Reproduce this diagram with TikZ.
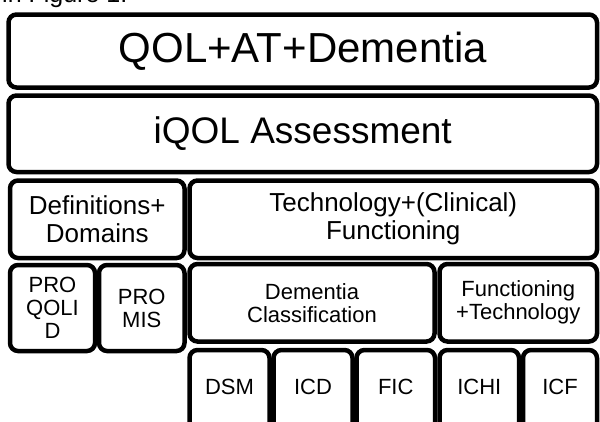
\documentclass[tikz,border=0pt]{standalone}
\usepackage{fontspec}
\setmainfont{Liberation Sans}
\begin{document}
\begin{tikzpicture}[x=1pt,y=-1pt,
  box/.style={draw=black, line width=4.5pt, rounded corners=8pt, fill=white,
    inner sep=0pt, outer sep=0pt, align=center},
  big/.style={font=\fontsize{42}{45}\selectfont},
  mid/.style={font=\fontsize{37}{40}\selectfont},
  med/.style={font=\fontsize{26}{28}\selectfont},
  sml/.style={font=\fontsize{22}{23}\selectfont},
  lbl/.style={inner sep=0pt, align=center, font=\fontsize{22}{23}\selectfont}]
\useasboundingbox (0,0) rectangle (600,421);
\clip (0,0) rectangle (600,421);
\node[anchor=base west, inner sep=0pt, font=\fontsize{25}{27}\selectfont] (cap) at (2,2.5) {in Figure 1.};
% row 1 and 2
\node[box, big, minimum width=588.5pt, minimum height=73pt] (qol) at (302.75,51) {QOL+AT+Dementia};
\node[box, mid, minimum width=588.5pt, minimum height=76.5pt] (iqol) at (302.75,133.75) {iQOL Assessment};
% row 3
\node[box, med, minimum width=174.5pt, minimum height=77.5pt] (def) at (97.25,219.25) {Definitions+\\Domains};
\node[box, med, minimum width=407.5pt, minimum height=77.5pt] (tech) at (393.25,219.25) {Technology+(Clinical)\\Functioning};
% row 4
\node[box, sml, minimum width=85pt, minimum height=86pt] (qolid) at (52.5,308) {PRO\\QOLI\\D};
\node[box, sml, minimum width=85.5pt, minimum height=86pt] (promis) at (141.75,308) {PRO\\MIS};
\node[box, sml, minimum width=245pt, minimum height=77.5pt] (dem) at (312,302.75) {Dementia\\Classification};
\node[box, sml, minimum width=157.5pt, minimum height=77.5pt] (ft) at (518.25,302.75) {Functioning\\+Technology};
% row 5
\node[box, minimum width=80pt, minimum height=90pt] (dsm) at (229.5,395) {};
\node[box, minimum width=79pt, minimum height=90pt] (icd) at (313,395) {};
\node[box, minimum width=78.5pt, minimum height=90pt] (fic) at (395.75,395) {};
\node[box, minimum width=79.5pt, minimum height=90pt] (ichi) at (479.25,395) {};
\node[box, minimum width=74pt, minimum height=90pt] (icf) at (560,395) {};
\node[lbl] (dsmT) at (229.5,387) {DSM};
\node[lbl] (icdT) at (313,387) {ICD};
\node[lbl] (ficT) at (395.75,387) {FIC};
\node[lbl] (ichiT) at (479.25,387) {ICHI};
\node[lbl] (icfT) at (560,387) {ICF};
\end{tikzpicture}
\end{document}
